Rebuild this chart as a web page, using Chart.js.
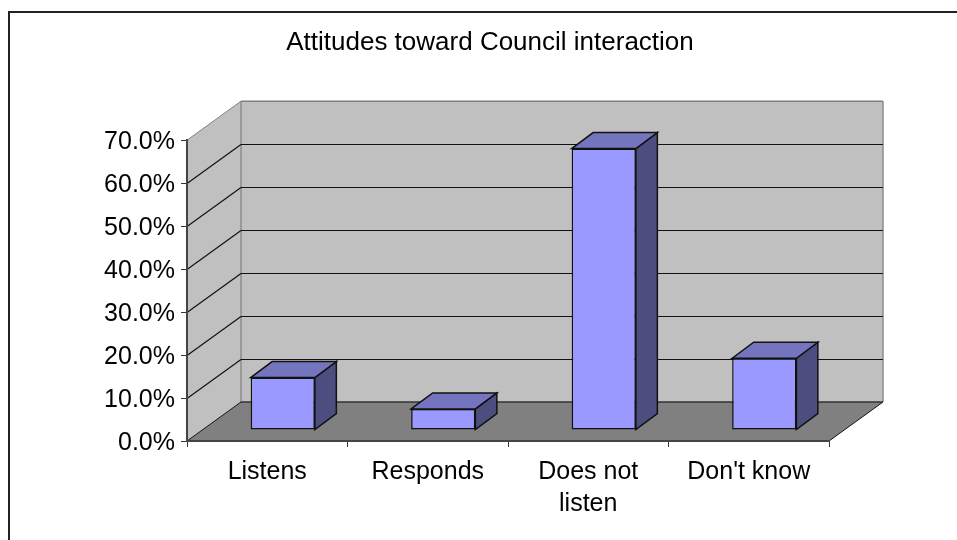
<!DOCTYPE html>
<html>
<head>
<meta charset="utf-8">
<title>Attitudes toward Council interaction</title>
<script src="https://cdn.jsdelivr.net/npm/chart.js@4"></script>
<style>
	html, body { margin: 0; padding: 0; background: #ffffff; }
	canvas { display: block; }
</style>
</head>
<body>
<canvas id="grafica" width="957" height="540"></canvas>
<script>
const categories = ["Listens", "Responds", ["Does not", "listen"], "Don't know"];
const values = [12.2, 4.9, 65.5, 16.7];
const titleText = "Attitudes toward Council interaction";
const yMax = 70;
const yStep = 10;

// 3d look: how far the back wall and the bars sit from the front plane
const wallDX = 54, wallDY = -39;
const barDX = 15.5, barDY = -11;
const depthDX = 21.5, depthDY = -16;

const fontName = "'Liberation Sans', Arial, sans-serif";

function line(ctx, x1, y1, x2, y2, color, width) {
	ctx.strokeStyle = color;
	ctx.lineWidth = width;
	ctx.beginPath();
	ctx.moveTo(x1, y1);
	ctx.lineTo(x2, y2);
	ctx.stroke();
}

function face(ctx, pts, fill) {
	ctx.fillStyle = fill;
	ctx.strokeStyle = "#111111";
	ctx.lineWidth = 1.5;
	ctx.beginPath();
	ctx.moveTo(pts[0][0], pts[0][1]);
	for (let i = 1; i < pts.length; i++) ctx.lineTo(pts[i][0], pts[i][1]);
	ctx.closePath();
	ctx.fill();
	ctx.stroke();
}

const walls = {
	id: "walls",
	afterLayout(chart) {
		// the y box is narrow so the title centres right, labels must not get clipped by it
		chart.scales.y.left = 60;
	},
	beforeDraw(chart) {
		const ctx = chart.ctx;
		const a = chart.chartArea;
		const y = chart.scales.y;
		ctx.save();
		// frame of the picture, only top and left are in view
		line(ctx, 9, 12, 957, 12, "#222222", 2);
		line(ctx, 9, 11, 9, 540, "#222222", 2);
		// side wall
		ctx.fillStyle = "#c0c0c0";
		ctx.beginPath();
		ctx.moveTo(a.left, a.top);
		ctx.lineTo(a.left + wallDX, a.top + wallDY);
		ctx.lineTo(a.left + wallDX, a.bottom + wallDY);
		ctx.lineTo(a.left, a.bottom);
		ctx.closePath();
		ctx.fill();
		// back wall
		ctx.fillRect(a.left + wallDX, a.top + wallDY, a.width, a.height);
		// floor
		ctx.fillStyle = "#808080";
		ctx.beginPath();
		ctx.moveTo(a.left, a.bottom);
		ctx.lineTo(a.left + wallDX, a.bottom + wallDY);
		ctx.lineTo(a.right + wallDX, a.bottom + wallDY);
		ctx.lineTo(a.right, a.bottom);
		ctx.closePath();
		ctx.fill();
		// wall edges
		line(ctx, a.left, a.top, a.left + wallDX, a.top + wallDY, "#808080", 1);
		line(ctx, a.left + wallDX, a.top + wallDY, a.right + wallDX, a.top + wallDY, "#808080", 1.5);
		line(ctx, a.left + wallDX, a.top + wallDY, a.left + wallDX, a.bottom + wallDY, "#8c8c8c", 1.5);
		line(ctx, a.right + wallDX, a.top + wallDY, a.right + wallDX, a.bottom + wallDY, "#8c8c8c", 1.5);
		// grid lines follow the walls
		for (let v = yStep; v <= yMax - yStep; v += yStep) {
			const py = Math.round(y.getPixelForValue(v)) + 0.5;
			line(ctx, a.left, py, a.left + wallDX, py + wallDY, "#111111", 1.2);
			line(ctx, a.left + wallDX, py + wallDY, a.right + wallDX, py + wallDY, "#111111", 1.2);
		}
		// floor edges
		line(ctx, a.left, a.bottom, a.left + wallDX, a.bottom + wallDY, "#111111", 1);
		line(ctx, a.right, a.bottom, a.right + wallDX, a.bottom + wallDY, "#111111", 1);
		line(ctx, a.left + wallDX, a.bottom + wallDY, a.right + wallDX, a.bottom + wallDY, "#333333", 1.5);
		ctx.restore();
	},
	beforeDatasetDraw(chart, args) {
		const ctx = chart.ctx;
		ctx.save();
		ctx.translate(barDX, barDY);
		args.meta.data.forEach(function (bar) {
			const p = bar.getProps(["x", "y", "base", "width"], true);
			const l = p.x - p.width / 2, r = p.x + p.width / 2;
			face(ctx, [[r, p.y], [r + depthDX, p.y + depthDY], [r + depthDX, p.base + depthDY], [r, p.base]], "#4d4d80");
			face(ctx, [[l, p.y], [l + depthDX, p.y + depthDY], [r + depthDX, p.y + depthDY], [r, p.y]], "#7474bf");
		});
	},
	afterDatasetDraw(chart) {
		chart.ctx.restore();
	}
};

const grafica = new Chart(document.getElementById("grafica"), {
	type: "bar",
	data: {
		labels: categories,
		datasets: [{
			data: values,
			backgroundColor: "#9999ff",
			borderColor: "#111111",
			borderWidth: 1.5,
			borderSkipped: false,
			barPercentage: 0.4,
			categoryPercentage: 1,
			clip: false
		}]
	},
	plugins: [walls],
	options: {
		responsive: false,
		animation: false,
		layout: { padding: { left: 151, right: 128, top: 0, bottom: 0 } },
		plugins: {
			legend: { display: false },
			tooltip: { enabled: false },
			title: {
				display: true,
				text: titleText,
				color: "#000000",
				font: { family: fontName, size: 26, weight: "normal", lineHeight: 1.2 },
				padding: { top: 27, bottom: 82 }
			}
		},
		scales: {
			x: {
				afterFit(scale) { scale.height = 99; },
				grid: { drawOnChartArea: false, drawTicks: true, tickLength: 6, color: "#333333" },
				border: { color: "#444444", width: 2 },
				ticks: {
					color: "#000000",
					autoSkip: false,
					maxRotation: 0,
					padding: 9,
					font: { family: fontName, size: 25, lineHeight: 1.28 }
				}
			},
			y: {
				min: 0,
				max: yMax,
				afterFit(scale) { scale.width = 36; },
				grid: { drawOnChartArea: false, drawTicks: true, tickLength: 6, color: "#333333" },
				border: { color: "#444444", width: 2 },
				ticks: {
					stepSize: yStep,
					color: "#000000",
					padding: 6,
					labelOffset: 2,
					font: { family: fontName, size: 25 },
					callback(v) { return v.toFixed(1) + "%"; }
				}
			}
		}
	}
});
</script>
</body>
</html>
